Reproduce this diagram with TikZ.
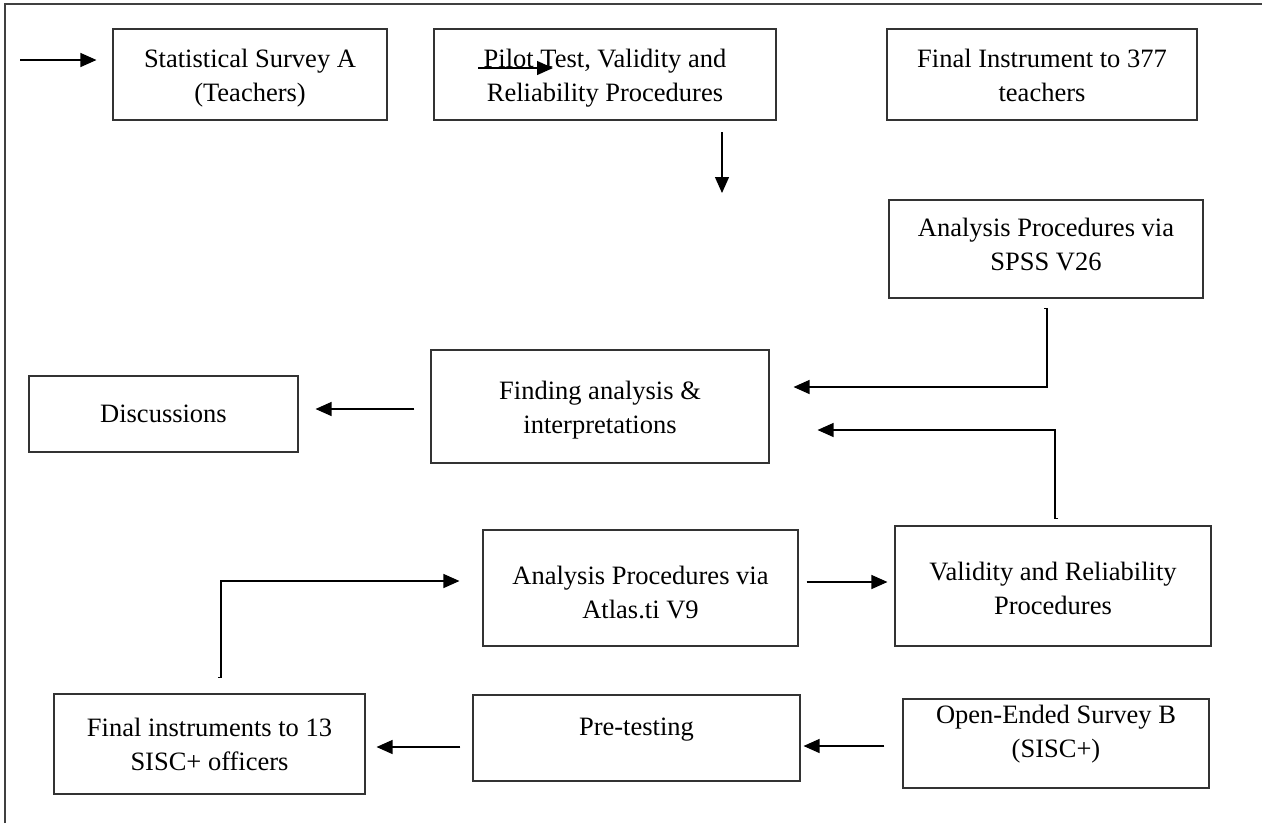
\documentclass[tikz,border=0pt]{standalone}
\usepackage{fontspec}
\setmainfont{Liberation Serif}
\usetikzlibrary{arrows.meta}

\tikzset{
  stage/.style={draw=black!80, line width=1.1pt, inner sep=0pt, align=center,
    font=\fontsize{26.5}{34}\selectfont},
  flow/.style={line width=1.3pt, -{Triangle[length=16pt,width=14pt]}}
}

\begin{document}
\begin{tikzpicture}[x=1pt, y=-1pt]
	\useasboundingbox (0,0) rectangle (1262,823);
	\draw[line width=1.5pt, black!75] (5,823) -- (5,4) -- (1262,4);

	\node[stage, minimum width=274pt, minimum height=91pt, text height=60pt, text depth=6pt] (SA) at (250,74.5) {Statistical Survey A\\(Teachers)};
	\node[stage, minimum width=342pt, minimum height=91pt, text height=60pt, text depth=6pt] (PT) at (605,74.5) {Pilot Test, Validity and\\Reliability Procedures};
	\node[stage, minimum width=310pt, minimum height=91pt, text height=60pt, text depth=6pt] (FI) at (1042,74.5) {Final Instrument to 377\\teachers};
	\node[stage, minimum width=314pt, minimum height=98pt, text depth=9pt] (SP) at (1046,249) {Analysis Procedures via\\SPSS V26};
	\node[stage, minimum width=338pt, minimum height=113pt, text height=59pt] (FA) at (600,406.5) {Finding analysis \&\\interpretations};
	\node[stage, minimum width=269pt, minimum height=76pt] (D) at (163.5,414) {Discussions};
	\node[stage, minimum width=315pt, minimum height=116pt, text height=62pt] (AT) at (640.5,588) {Analysis Procedures via\\Atlas.ti V9};
	\node[stage, minimum width=316pt, minimum height=120pt, text height=58pt] (VR) at (1053,586) {Validity and Reliability\\Procedures};
	\node[stage, minimum width=311pt, minimum height=100pt] (FS) at (209.5,744) {Final instruments to 13\\SISC+ officers};
	\node[stage, minimum width=327pt, minimum height=86pt, text depth=22pt] (PR) at (636.5,738) {Pre-testing};
	\node[stage, minimum width=306pt, minimum height=89pt, text depth=24pt] (SB) at (1056,743.5) {Open-Ended Survey B\\(SISC+)};

	\coordinate (in) at (20,60);
	\coordinate (p1) at (478,68);
	\coordinate (p2) at (553,68);
	\coordinate (d1) at (722,132);
	\coordinate (d2) at (722,193);

	\draw[flow, shorten >=16pt] (in) -- (in -| SA.west);
	\draw[flow] (p1) -- (p2);
	\draw[flow] (d1) -- (d2);
	\draw[flow, shorten >=24pt] ([xshift=-2pt,yshift=-10pt]SP.south) -- ++(3,0) |- ([yshift=19.5pt]FA.east);
	\draw[flow, shorten >=48pt] ([xshift=5pt,yshift=7pt]VR.north) -- ++(-3,0) |- ([yshift=-23.5pt]FA.east);
	\draw[flow, shorten <=16pt, shorten >=17pt] ([yshift=-2.5pt]FA.west) -- ([yshift=-2.5pt]FA.west -| D.east);
	\draw[flow, shorten >=23pt] ([xshift=8.5pt,yshift=16pt]FS.north) -- ++(3,0) |- ([yshift=7pt]AT.west);
	\draw[flow, shorten <=8pt, shorten >=7pt] ([yshift=6pt]AT.east) -- ([yshift=6pt]AT.east -| VR.west);
	\draw[flow, shorten <=18pt, shorten >=3pt] ([yshift=-2.5pt]SB.west) -- ([yshift=-2.5pt]SB.west -| PR.east);
	\draw[flow, shorten <=12pt, shorten >=11pt] ([yshift=-9pt]PR.west) -- ([yshift=-9pt]PR.west -| FS.east);
\end{tikzpicture}
\end{document}
